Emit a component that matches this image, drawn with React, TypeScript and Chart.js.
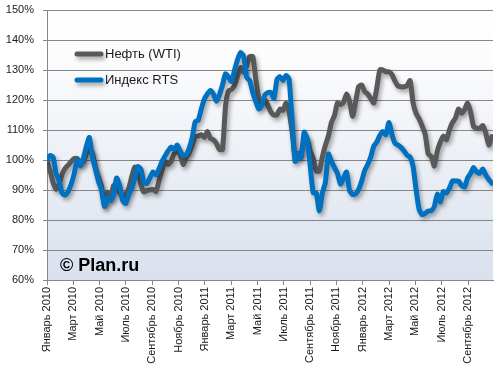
import React, { useEffect, useRef } from "react";
import { Chart, registerables } from "chart.js";
Chart.register(...registerables);

// Weekly values, % of the level at the start of January 2010 (week 0 = first week of Jan 2010)
const oilWTI = [
  99.5, 96.5, 92.5, 90.2, 92, 95.2, 97.2, 98.3, 99.5, 100.5,
  100.5, 99, 99.5, 102, 103.8, 102.3, 97.5, 94.3, 91.2, 85,
  89.2, 87.3, 91.5, 92, 89, 87.9, 88.6, 90.5, 94.4, 97.6,
  96.5, 92, 89.3, 89.8, 90, 90.2, 89.5, 93, 96.5, 99.5,
  98.5, 99.5, 102, 102.8, 101.8, 98.5, 100.8, 102.4, 105, 107.8,
  108, 108.4, 107.5, 109.5, 107.2, 106.7, 105.5, 103.5, 103.5, 118,
  123, 123.5, 124.9, 128, 130.8, 129.2, 131.5, 134.5, 134.5, 127,
  120.8, 118.5, 120, 118.2, 116, 115, 115, 117, 116.5, 119,
  116, 109.5, 101.1, 101.1, 102.4, 106.7, 107, 103, 100.5, 96.3,
  96.3, 101, 104.9, 108, 112.5, 114.8, 119, 118.5, 119.2, 122,
  119.5, 114.5, 119.4, 124.5, 125, 122.8, 122, 120.5, 119, 124,
  130, 130, 129.4, 129.4, 128.5, 126.3, 124.7, 124.4, 124.4, 124.8,
  126.5, 119, 115.5, 113.7, 111.3, 108.5, 102, 101.2, 98, 103,
  106, 108, 106.8, 110, 112.5, 114, 117, 115.6, 116.8, 119,
  116, 111.1, 110.6, 110.6, 111.5, 109, 105, 107.8,
];

const rtsIndex = [
  100, 101.5, 101, 95.5, 93, 89, 88.3, 89.5, 92, 95.5,
  100, 98, 100.5, 104.5, 107.5, 101, 97, 93, 90, 84.5,
  87.5, 86.5, 88.5, 94, 91.5, 86.5, 85.5, 88.5, 90.5, 94,
  97.8, 97, 92.6, 92.2, 94, 96, 95, 97, 99.5, 101.3,
  103, 104.3, 103.5, 105, 103, 101.5, 101.8, 104, 107.5, 112.8,
  113.3, 117, 120.3, 122, 123.2, 122, 119.6, 121.8, 125, 128.7,
  127.6, 126.2, 130, 133.5, 135.8, 134.5, 127.5, 126.5, 122.5, 119.5,
  117, 118.3, 121.6, 122.5, 122.5, 120.5, 126.8, 127.8, 126.5, 128.2,
  127, 113, 99.5, 102.2, 100.8, 109.3, 107, 98, 89, 89,
  83, 89, 92.5, 102, 99.6, 97.5, 95.5, 92, 94, 96,
  89.8, 88.5, 88.7, 90.2, 93, 96.5, 98.5, 101, 104.6, 106,
  108.2, 109.5, 108.5, 112.5, 108.5, 105.6, 105, 104.2, 103, 101.6,
  101, 97.8, 90, 83.5, 81.8, 82.2, 83, 83.1, 84.5, 88.6,
  86, 89.5, 89, 90.6, 93, 93, 93, 91.5, 91, 94,
  95.5, 97.5, 96, 95.6, 97, 95, 93.5, 92.3,
];

// Axis ticks: every second month from January 2010 (month index from Jan 2010)
const tickMonths = [0, 2, 4, 6, 8, 10, 12, 14, 16, 18, 20, 22, 24, 26, 28, 30, 32];
const tickLabels = [
  "Январь 2010", "Март 2010", "Май 2010", "Июль 2010", "Сентябрь 2010", "Ноябрь 2010",
  "Январь 2011", "Март 2011", "Май 2011", "Июль 2011", "Сентябрь 2011", "Ноябрь 2011",
  "Январь 2012", "Март 2012", "Май 2012", "Июль 2012", "Сентябрь 2012",
];
const yTicks = [60, 70, 80, 90, 100, 110, 120, 130, 140, 150];

const seriesNames = ["Нефть (WTI)", "Индекс RTS"];
const seriesColors = ["#595959", "#0070C0"];
const WEEKS_PER_MONTH = 52.18 / 12;
const FONT = "'Liberation Sans', Arial, sans-serif";

const bgPlugin = {
  id: "bgPlugin",
  beforeDraw(chart: any) {
    const { ctx, chartArea: a } = chart;
    const g = ctx.createLinearGradient(0, a.top, 0, a.bottom);
    g.addColorStop(0, "#ffffff");
    g.addColorStop(0.15, "#fdfdfe");
    g.addColorStop(1, "#d9e1ed");
    ctx.save();
    ctx.fillStyle = g;
    ctx.fillRect(a.left, a.top, a.right - a.left, a.bottom - a.top);
    ctx.restore();
  },
};

const shadowPlugin = {
  id: "shadowPlugin",
  beforeDatasetDraw(chart: any) {
    const ctx = chart.ctx;
    ctx.save();
    ctx.shadowColor = "rgba(0,0,0,0.35)";
    ctx.shadowBlur = 4;
    ctx.shadowOffsetX = 2;
    ctx.shadowOffsetY = 3;
  },
  afterDatasetDraw(chart: any) {
    chart.ctx.restore();
  },
};

const overlayPlugin = {
  id: "overlayPlugin",
  afterDatasetsDraw(chart: any) {
    const ctx = chart.ctx;
    const a = chart.chartArea;
    const lx = a.left + 28;
    const rows = [a.top + 44, a.top + 70];
    ctx.save();
    rows.forEach((y, i) => {
      ctx.save();
      ctx.shadowColor = "rgba(0,0,0,0.35)";
      ctx.shadowBlur = 4;
      ctx.shadowOffsetX = 2;
      ctx.shadowOffsetY = 3;
      ctx.strokeStyle = seriesColors[i];
      ctx.lineWidth = 5;
      ctx.lineCap = "round";
      ctx.beginPath();
      ctx.moveTo(lx + 2, y);
      ctx.lineTo(lx + 26, y);
      ctx.stroke();
      ctx.restore();
      ctx.fillStyle = "#1a1a1a";
      ctx.font = `13px ${FONT}`;
      ctx.textBaseline = "middle";
      ctx.textAlign = "left";
      ctx.fillText(seriesNames[i], lx + 30, y);
    });
    ctx.fillStyle = "#000000";
    ctx.font = `bold 18px ${FONT}`;
    ctx.textBaseline = "alphabetic";
    ctx.fillText("© Plan.ru", a.left + 13, a.bottom - 9);
    ctx.restore();
  },
};

export default function App() {
  const ref = useRef<HTMLCanvasElement | null>(null);
  useEffect(() => {
    if (!ref.current) return;
    const toPoints = (arr: number[]) => arr.map((v, i) => ({ x: i, y: v }));
    const chart = new Chart(ref.current, {
      type: "line",
      data: {
        datasets: [
          {
            label: seriesNames[1],
            data: toPoints(rtsIndex),
            borderColor: seriesColors[1],
            borderWidth: 5,
            pointRadius: 0,
            tension: 0.2,
            borderJoinStyle: "round",
            borderCapStyle: "round",
          },
          {
            label: seriesNames[0],
            data: toPoints(oilWTI),
            borderColor: seriesColors[0],
            borderWidth: 5,
            pointRadius: 0,
            tension: 0.2,
            borderJoinStyle: "round",
            borderCapStyle: "round",
          },
        ],
      },
      options: {
        responsive: false,
        animation: false,
        devicePixelRatio: 1,
        layout: { padding: { top: 10, right: 6, left: 0, bottom: 0 } },
        plugins: { legend: { display: false }, tooltip: { enabled: false } },
        scales: {
          x: {
            type: "linear",
            min: 0,
            max: 147.4,
            afterBuildTicks: (s: any) => {
              s.ticks = tickMonths.map((m) => ({ value: m * WEEKS_PER_MONTH }));
            },
            afterFit: (s: any) => {
              s.height = 102;
              s.paddingLeft = 0;
              s.paddingRight = 0;
              s.paddingTop = 0;
              s.paddingBottom = 0;
            },
            ticks: {
              autoSkip: false,
              minRotation: 90,
              maxRotation: 90,
              padding: 2,
              color: "#1a1a1a",
              font: { family: FONT, size: 11 },
              callback: (_v: any, i: number) => tickLabels[i],
            },
            grid: {
              drawOnChartArea: false,
              drawTicks: true,
              tickLength: 5,
              color: "#878787",
            },
            border: { color: "#878787" },
          },
          y: {
            min: 60,
            max: 150,
            afterBuildTicks: (s: any) => {
              s.ticks = yTicks.map((v) => ({ value: v }));
            },
            afterFit: (s: any) => {
              s.width = 47;
              s.paddingTop = 0;
              s.paddingBottom = 0;
              s.paddingLeft = 0;
              s.paddingRight = 0;
            },
            ticks: {
              padding: 9,
              color: "#1a1a1a",
              font: { family: FONT, size: 11 },
              callback: (v: any) => `${v}%`,
            },
            grid: {
              color: "#878787",
              lineWidth: 1,
              tickLength: 4,
            },
            border: { color: "#878787" },
          },
        },
      },
      plugins: [bgPlugin, shadowPlugin, overlayPlugin],
    } as any);
    return () => chart.destroy();
  }, []);
  return (
    <div style={{ position: "absolute", left: 0, top: 0, width: 499, height: 382, background: "#fff" }}>
      <canvas ref={ref} width={499} height={382} />
    </div>
  );
}
